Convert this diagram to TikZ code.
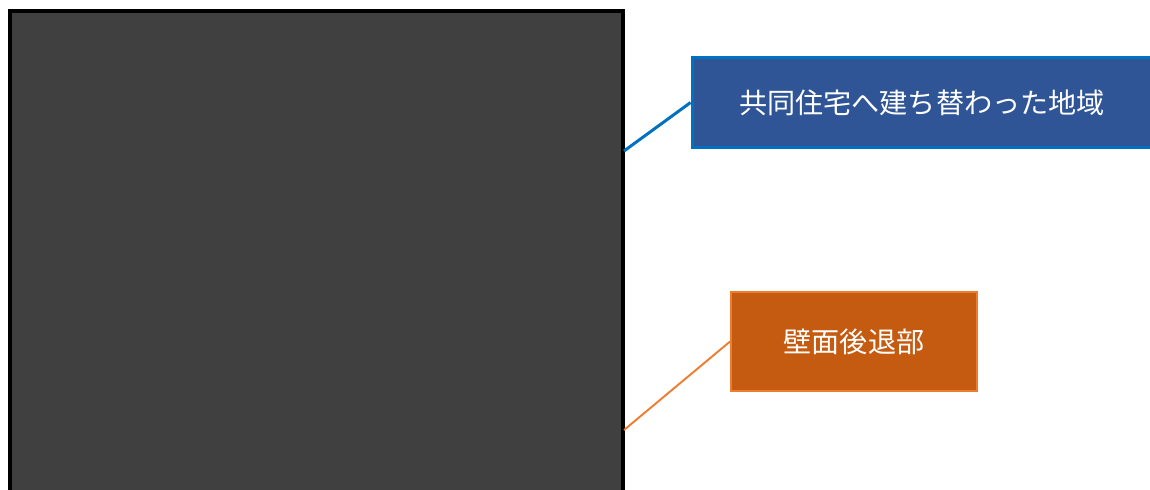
\documentclass[tikz,border=0pt]{standalone}
\usepackage{fontspec}
\setmainfont{Noto Sans CJK JP}
\usetikzlibrary{positioning}
\definecolor{photogray}{HTML}{404040}
\definecolor{bluefill}{HTML}{2F5597}
\definecolor{blueline}{HTML}{0070C0}
\definecolor{orangefill}{HTML}{C55A11}
\definecolor{orangeline}{HTML}{ED7D31}
\begin{document}
\begin{tikzpicture}[
		x=0.02cm, y=-0.02cm,
		labelbox/.style={rectangle, draw=#1line, fill=#1fill, text=white, font=\fontsize{16}{19}\selectfont, inner sep=0pt},
		leader/.style={draw=#1line, line cap=butt}
		]
		\clip (0,0) rectangle (1150,490);
		% Photo
		\draw[line width=2.3pt, fill=photogray] (10,11) rectangle (623,620);
		\coordinate (upper) at (624,151);
		\coordinate (lower) at (624,430);
		% Labels
		\node[labelbox=blue, line width=1.7pt, minimum width=9.2cm, minimum height=1.82cm] (housing) at (922,102.5) {共同住宅へ建ち替わった地域};
		\node[labelbox=orange, line width=1.1pt, minimum width=4.92cm, minimum height=1.98cm] (setback) at (854,341.5) {壁面後退部};
		% Leaders
		\draw[leader=blue, line width=1.7pt] (upper) -- (housing.west);
		\draw[leader=orange, line width=1.1pt] (lower) -- (setback.west);
\end{tikzpicture}
\end{document}
